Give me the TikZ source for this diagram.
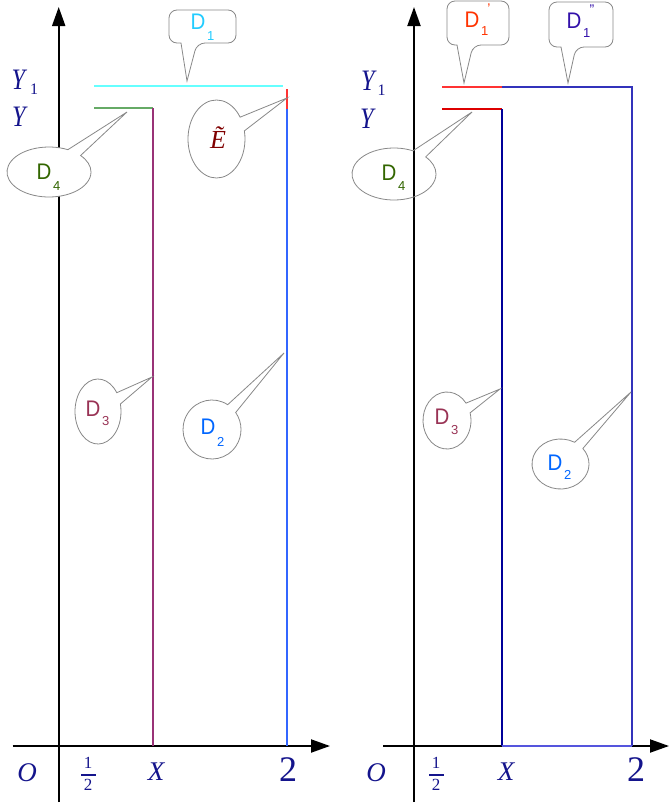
\documentclass[tikz,border=0pt]{standalone}
\usepackage{fontspec}
\setmainfont{Liberation Serif}
\setsansfont{Liberation Sans}
\usetikzlibrary{arrows.meta,shapes.callouts}
\definecolor{navy}{HTML}{14148C}
\definecolor{cyanline}{HTML}{66FFFF}
\definecolor{cyantext}{HTML}{22CCFF}
\definecolor{greenline}{HTML}{66AA66}
\definecolor{greentext}{HTML}{336600}
\definecolor{purpline}{HTML}{993377}
\definecolor{purptext}{HTML}{993355}
\definecolor{blueline}{HTML}{3366FF}
\definecolor{bluetext}{HTML}{0066FF}
\definecolor{redline}{HTML}{FF3333}
\definecolor{redline2}{HTML}{DD0000}
\definecolor{orangetext}{HTML}{FF3300}
\definecolor{indigotext}{HTML}{3311AA}
\definecolor{rblue}{HTML}{3333BB}
\definecolor{rnavy}{HTML}{000099}
\definecolor{rbottom}{HTML}{5555DD}
\definecolor{etext}{HTML}{800000}
\definecolor{bubblegray}{HTML}{888888}
\newcommand{\Dlab}[2]{\scalebox{1}[1.1]{D}\hspace{1.5pt}\raisebox{#2}{\fontsize{13}{13}\selectfont #1}}
\begin{document}
\begin{tikzpicture}[x=1pt,y=-1pt,
  axis/.style={line width=2pt,-{Triangle[length=19pt,width=13pt]}},
  seg/.style={line width=1.6pt},
  vline/.style={line width=1.25pt},
  bubble/.style={draw=bubblegray,line width=0.8pt,fill=white},
  ebubble/.style={bubble,ellipse callout,inner sep=0pt,callout pointer arc=22},
  lbl/.style={text=navy,inner sep=0pt,anchor=base,font=\fontsize{27}{27}\selectfont\itshape},
  lsub/.style={text=navy,inner sep=0pt,anchor=base,font=\fontsize{16}{16}\selectfont},
  num/.style={text=navy,inner sep=0pt,anchor=base,font=\fontsize{17}{17}\selectfont},
  dtxt/.style={inner sep=0pt,anchor=base west,font=\sffamily\fontsize{20.5}{20.5}\selectfont},
  primemark/.style={inner sep=0pt,anchor=base,font=\sffamily\fontsize{14}{14}\selectfont}]
\useasboundingbox (0,0) rectangle (670,806);
\fill[white] (0,0) rectangle (670,806);

% ---------- left panel axes ----------
\coordinate (lxs) at (12.7,746);
\coordinate (lxe) at (330,746);
\coordinate (lys) at (58.7,802);
\coordinate (lye) at (58.7,7);
\draw[axis] (lxs) -- (lxe);
\draw[axis] (lys) -- (lye);

% left lines
\coordinate (a1) at (94,86);
\coordinate (a2) at (283,86);
\draw[seg,cyanline,line width=2pt] (a1) -- (a2);
\coordinate (g1) at (94,108);
\coordinate (g2) at (153,108);
\coordinate (g3) at (153,746);
\draw[seg,greenline] (g1) -- (g2);
\draw[vline,purpline] (g2) -- (g3);
\coordinate (r1) at (287,89);
\coordinate (r2) at (287,109);
\coordinate (r3) at (287,746);
\draw[seg,redline] (r1) -- (r2);
\draw[vline,blueline] (r2) -- (r3);

% left callouts
\coordinate (t1) at (187,81);
\draw[bubble] (181,43) [rounded corners=8pt] -- (169,43) -- (169,10) -- (236,10) -- (236,43) -- (197,43) [sharp corners] -- (t1) -- cycle;
\node[dtxt,text=cyantext] (d1) at (190.5,29) {\Dlab{1}{-11pt}};

\coordinate (te) at (287,98);
\node[ebubble,minimum width=57pt,minimum height=78pt,callout absolute pointer={(te)}] (ce) at (216.5,139) {};
\node[inner sep=0pt,anchor=base,text=etext,font=\fontsize{26}{26}\selectfont\itshape] (et) at (218,148) {Ẽ};

\coordinate (t4) at (127,112);
\node[ebubble,minimum width=84pt,minimum height=50pt,callout absolute pointer={(t4)}] (c4) at (49,172) {};
\node[dtxt,text=greentext] (d4) at (36.5,179) {\Dlab{4}{-11pt}};

\coordinate (t3) at (152,377);
\node[ebubble,minimum width=46pt,minimum height=65pt,callout absolute pointer={(t3)}] (c3) at (98,411.5) {};
\node[dtxt,text=purptext] (d3) at (85.5,416) {\Dlab{3}{-9pt}};

\coordinate (t2) at (284,353);
\node[ebubble,minimum width=58pt,minimum height=59pt,callout absolute pointer={(t2)}] (c2) at (212,429.5) {};
\node[dtxt,text=bluetext] (d2) at (200.5,434) {\Dlab{2}{-12pt}};

% left labels
\node[lbl] (ly1) at (18.5,89) {\scalebox{0.9}[1.1]{Y}};
\node[lsub] (ly1s) at (34,94) {1};
\node[lbl] (ly) at (19,126) {\scalebox{0.9}[1.1]{Y}};
\node[lbl] (lo) at (27,781) {O};
\node[num] (lfn) at (88,768) {1};
\node[num] (lfd) at (88,790) {2};
\coordinate (lb1) at (81,775);
\coordinate (lb2) at (96,775);
\draw[navy,line width=1.6pt] (lb1) -- (lb2);
\node[lbl] (lx) at (156,780) {X};
\node[lbl,font=\fontsize{36}{36}\selectfont] (l2) at (288,781) {2};

% ---------- right panel axes ----------
\coordinate (rxs) at (383,746);
\coordinate (rxe) at (669,746);
\coordinate (rys) at (414,802);
\coordinate (rye) at (414,7);
\draw[axis] (rxs) -- (rxe);
\draw[axis] (rys) -- (rye);

% right lines
\coordinate (s1) at (442,87);
\coordinate (s2) at (502,87);
\coordinate (s3) at (632,87);
\coordinate (s4) at (632,746);
\coordinate (u1) at (442,109);
\coordinate (u2) at (502,109);
\coordinate (u3) at (502,746);
\draw[seg,redline] (s1) -- (s2);
\draw[vline,rblue] (s2) -- (s3) -- (s4);
\draw[seg,redline2] (u1) -- (u2);
\draw[vline,rnavy] (u2) -- (u3);
\draw[line width=1.4pt,rbottom] (u3) -- (s4);

% right callouts
\coordinate (rt1) at (464,83);
\draw[bubble] (457,45) [rounded corners=8pt] -- (447,45) -- (447,1) -- (509,1) -- (509,45) -- (473,45) [sharp corners] -- (rt1) -- cycle;
\node[dtxt,text=orangetext] (rd1) at (464.5,27) {\Dlab{1}{-8pt}};
\node[primemark,text=orangetext] (rp1) at (489,13) {\symbol{"27}};

\coordinate (rt2) at (568,83);
\draw[bubble] (561,47) [rounded corners=8pt] -- (549,47) -- (549,2) -- (613,2) -- (613,47) -- (576,47) [sharp corners] -- (rt2) -- cycle;
\node[dtxt,text=indigotext] (rd1b) at (566.5,28) {\Dlab{1}{-9pt}};
\node[primemark,text=indigotext] (rp2) at (592,14) {\symbol{"22}};

\coordinate (rt4) at (472,112);
\node[ebubble,fill=none,minimum width=84pt,minimum height=52pt,callout absolute pointer={(rt4)}] (rc4) at (394,174) {};
\node[dtxt,text=greentext] (rd4) at (381.5,180) {\Dlab{4}{-10pt}};

\coordinate (rt3) at (500,389);
\node[ebubble,minimum width=48pt,minimum height=57pt,callout absolute pointer={(rt3)}] (rc3) at (447,420.5) {};
\node[dtxt,text=purptext] (rd3) at (434.5,424) {\Dlab{3}{-10pt}};

\coordinate (rt2b) at (631,392);
\node[ebubble,minimum width=57pt,minimum height=50pt,callout absolute pointer={(rt2b)}] (rc2) at (560.5,464) {};
\node[dtxt,text=bluetext] (rd2) at (547.5,470) {\Dlab{2}{-9pt}};

% right labels
\node[lbl] (ry1) at (368,90) {\scalebox{0.9}[1.1]{Y}};
\node[lsub] (ry1s) at (381.5,95) {1};
\node[lbl] (ry) at (367,128) {\scalebox{0.9}[1.1]{Y}};
\node[lbl] (ro) at (376,781) {O};
\node[num] (rfn) at (436,768) {1};
\node[num] (rfd) at (436,790) {2};
\coordinate (rb1) at (429,775);
\coordinate (rb2) at (444,775);
\draw[navy,line width=1.6pt] (rb1) -- (rb2);
\node[lbl] (rx) at (506,780) {X};
\node[lbl,font=\fontsize{36}{36}\selectfont] (r2) at (636,781) {2};
\end{tikzpicture}
\end{document}
